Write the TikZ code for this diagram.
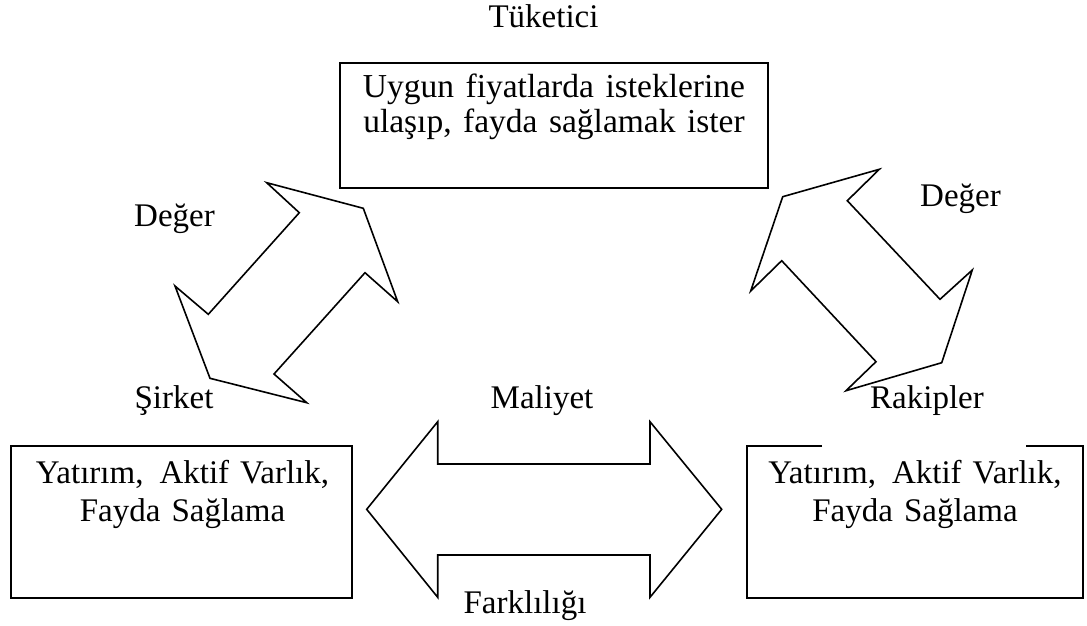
\documentclass[tikz,border=0pt]{standalone}
\usepackage{fontspec}
\setmainfont[Ligatures=NoCommon]{Liberation Serif}
\newcommand\boxfont{\fontsize{33}{38}\selectfont\spaceskip=11pt\relax}
\newcommand\wideboxfont{\fontsize{33.5}{38}\selectfont\spaceskip=11.5pt\relax}
\begin{document}
\begin{tikzpicture}[x=1pt,y=-1pt,line width=1.6pt,line join=miter,
  lbl/.style={anchor=base,inner sep=0pt,font=\fontsize{33}{38}\selectfont},
  boxtext/.style={anchor=base,inner sep=0pt,font=\boxfont},
  wideboxtext/.style={anchor=base,inner sep=0pt,font=\wideboxfont},
  frame/.style={draw,rectangle,inner sep=0pt},
  blockarrow/.style={draw,line join=miter}]
\useasboundingbox (0,0) rectangle (1087,625);

% consumer box
\node[frame,minimum width=428pt,minimum height=125pt] (tk) at (554,125.5) {};
\node[wideboxtext] (tk1) at (554,97) {Uygun fiyatlarda isteklerine};
\node[wideboxtext] (tk2) at (554,132) {ulaşıp, fayda sağlamak ister};

% company box
\node[frame,minimum width=341pt,minimum height=152pt] (sk) at (181.5,522) {};
\node[boxtext] (sk1) at (182.5,483) {Yatırım,\hspace{5pt} Aktif Varlık,};
\node[boxtext] (sk2) at (182.5,521) {Fayda Sağlama};

% competitors box (top edge interrupted)
\draw (822,446) -- (747,446) -- (747,598) -- (1083,598) -- (1083,446) -- (1026,446);
\node[boxtext] (rk1) at (915,483) {Yatırım,\hspace{5pt} Aktif Varlık,};
\node[boxtext] (rk2) at (915,521) {Fayda Sağlama};

% labels
\node[lbl] (tuk) at (543.5,27) {Tüketici};
\node[lbl] (d1) at (174.5,226.5) {Değer};
\node[lbl] (d2) at (960.5,206) {Değer};
\node[lbl] (sir) at (174,408) {Şirket};
\node[lbl] (mal) at (542,408) {Maliyet};
\node[lbl] (rak) at (927,408) {Rakipler};
\node[lbl] (fark) at (525,613) {Farklılığı};

% left diagonal double arrow
\draw[blockarrow] (266.7,182.7) -- (299.3,212.7) -- (208.3,314.3) -- (175,286)
  -- (210,378.3) -- (306.7,402.7) -- (274,374) -- (365,272.7)
  -- (397.7,301.7) -- (363.3,208.3) -- cycle;

% right diagonal double arrow
\draw[blockarrow] (879.3,169.3) -- (847.3,200.7) -- (940,299.3) -- (972.3,270)
  -- (941.7,362.7) -- (846,390.7) -- (876,361.7) -- (781.7,260.7)
  -- (750.7,291) -- (782.7,196.7) -- cycle;

% horizontal double arrow
\draw[blockarrow] (366.7,509.3) -- (437.7,421.7) -- (437.7,464) -- (650,464)
  -- (650,421.7) -- (721.7,509.3) -- (650,597.3) -- (650,555)
  -- (437.7,555) -- (437.7,597.3) -- cycle;
\end{tikzpicture}
\end{document}
